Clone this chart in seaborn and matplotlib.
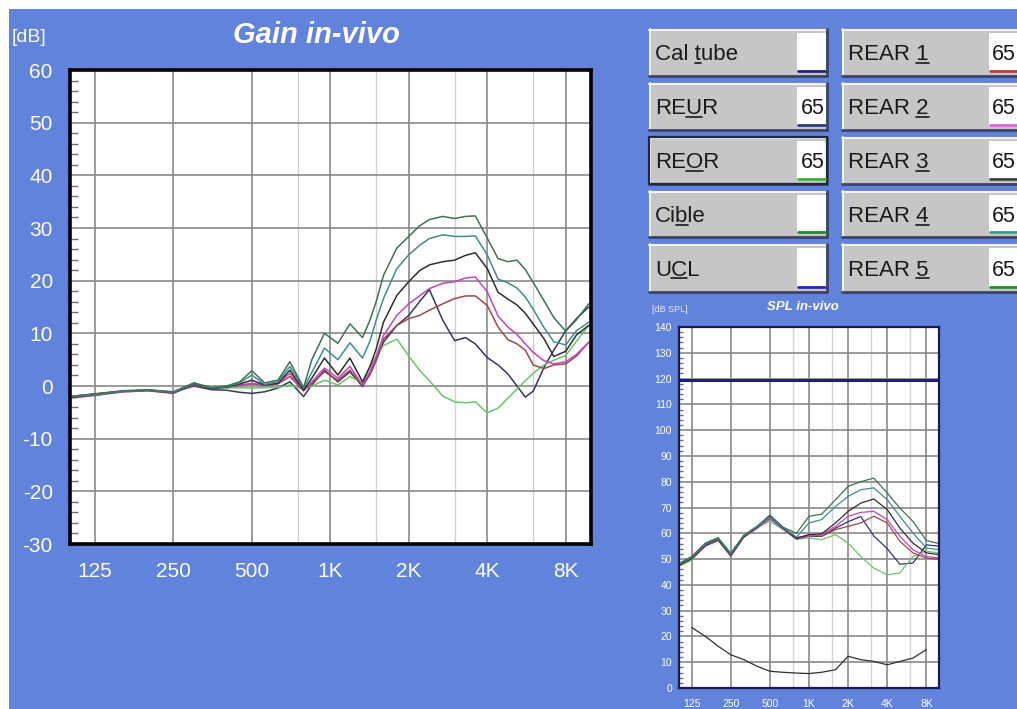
import numpy as np
import pandas as pd
import matplotlib
matplotlib.use("Agg")
import matplotlib.pyplot as plt
import seaborn as sns
from matplotlib.patches import Rectangle
from matplotlib.lines import Line2D
from matplotlib.ticker import FixedLocator, NullFormatter, MultipleLocator

# ---------------- data ----------------
gain_freqs = [100, 125, 160, 200, 250, 300, 350, 400, 450,
              500, 560, 630, 700, 790, 850, 950, 1070, 1190, 1330, 1420, 1500,
              1600, 1800, 2000, 2200, 2400, 2700, 3000, 3300,
              3600, 4000, 4400, 4800, 5200, 5600, 6000, 6600, 7200, 8000, 8800, 9800]

gain_rear5 = [-2.0, -1.5, -0.9, -0.7, -1.1, 0.6, -0.3, 0.0, 0.8,
              2.9, 0.6, 1.1, 4.6, -0.3, 5.0, 10.0, 8.1, 11.8, 9.2, 12.5, 16.0,
              21.0, 26.2, 28.4, 30.4, 31.6, 32.2, 31.8, 32.2,
              32.3, 28.1, 24.2, 23.6, 23.9, 22.1, 19.7, 16.2, 13.0, 10.4, 12.6, 15.6]
gain_rear4 = [-2.1, -1.6, -1.0, -0.8, -1.2, 0.5, -0.4, -0.1, 0.6,
              2.1, 0.3, 0.8, 3.7, -0.4, 2.6, 7.2, 5.0, 8.2, 5.3, 8.5, 12.5,
              16.6, 22.3, 24.9, 26.7, 28.0, 28.7, 28.4, 28.4,
              28.5, 24.9, 20.3, 19.6, 18.6, 16.9, 14.6, 11.1, 8.4, 7.8, 10.5, 12.1]
gain_rear3 = [-2.2, -1.6, -1.0, -0.8, -1.3, 0.4, -0.5, -0.2, 0.4,
              1.1, 0.2, 0.5, 3.0, -0.8, 1.5, 5.3, 2.1, 5.3, 0.8, 3.7, 7.0,
              12.1, 17.2, 19.8, 21.9, 23.0, 23.6, 23.9, 24.8,
              25.3, 22.3, 17.8, 16.5, 15.4, 13.8, 11.8, 9.0, 5.6, 6.6, 9.7, 11.5]
gain_rear2 = [-2.1, -1.7, -1.1, -0.9, -1.4, 0.3, -0.4, -0.1, 0.2,
              0.5, 0.2, 0.5, 2.4, -0.9, 0.8, 3.4, 1.5, 3.7, 0.2, 2.7, 5.6,
              9.6, 13.4, 15.6, 17.1, 18.5, 19.5, 19.8, 20.5,
              20.7, 17.9, 13.3, 11.2, 9.8, 8.0, 6.4, 4.8, 4.2, 4.6, 6.0, 8.3]
gain_rear1 = [-2.3, -1.8, -1.1, -0.9, -1.3, 0.2, -0.5, -0.2, 0.1,
              0.4, 0.1, 0.4, 1.8, -0.9, 0.5, 2.7, 1.1, 3.0, 0.1, 2.1, 4.9,
              8.9, 11.5, 12.8, 13.4, 14.4, 15.6, 16.6, 17.1,
              17.1, 15.3, 11.2, 8.8, 8.0, 6.8, 4.0, 3.3, 4.0, 4.2, 5.7, 8.3]
gain_reur = [-2.0, -1.5, -1.0, -0.8, -1.2, 0.0, -0.7, -0.8, -1.2,
             -1.4, -1.1, -0.4, 0.8, -2.0, 0.2, 3.0, 0.8, 2.7, -0.1, 2.4, 4.9,
             8.3, 11.5, 13.4, 16.0, 18.3, 12.5, 8.6, 9.2,
             8.0, 5.4, 4.0, 2.3, 0.0, -2.1, -1.0, 3.5, 6.8, 10.5, 12.8, 15.0]
gain_reor = [-2.0, -1.6, -1.0, -0.8, -1.2, 0.4, -0.3, -0.4, -0.3,
             -0.4, -0.3, -0.3, 0.2, -0.6, 0.0, 1.1, 0.2, 1.8, 0.5, 3.7, 5.6,
             7.7, 8.9, 5.7, 3.0, 1.0, -1.9, -3.0, -3.2,
             -3.0, -5.1, -4.2, -2.3, -0.6, 1.0, 2.4, 4.0, 4.9, 5.8, 8.5, 11.5]

spl_freqs = [100, 125, 160, 200, 250, 315, 400, 500, 630, 800, 1000,
             1250, 1600, 2000, 2500, 3150, 4000, 5000, 6300, 8000, 10000]
spl_rear5 = [48.3, 51.0, 56.3, 58.3, 52.3, 59.3, 62.8, 67.0, 62.4, 60.0, 66.6,
             67.4, 73.0, 78.2, 80.0, 81.4, 75.6, 69.8, 64.6, 57.2, 56.0]
spl_rear4 = [48.0, 50.6, 55.8, 58.0, 51.9, 59.0, 62.5, 66.2, 62.2, 58.5, 64.0,
             65.3, 70.4, 74.3, 76.9, 77.6, 73.0, 66.6, 60.1, 54.3, 53.6]
spl_rear3 = [47.6, 50.2, 55.5, 57.6, 51.5, 58.7, 62.3, 66.8, 62.0, 58.0, 59.5,
             59.8, 64.0, 68.5, 71.7, 73.3, 69.2, 62.0, 56.2, 52.4, 51.7]
spl_rear2 = [47.8, 50.0, 55.2, 57.5, 51.0, 58.5, 62.0, 65.5, 61.7, 57.8, 58.8,
             59.5, 62.7, 66.6, 68.1, 68.5, 65.3, 58.8, 53.6, 51.0, 50.4]
spl_rear1 = [47.5, 50.2, 55.0, 57.2, 51.3, 58.4, 62.1, 65.8, 61.8, 58.0, 59.5,
             58.8, 61.4, 62.7, 64.0, 66.6, 64.0, 56.9, 52.4, 50.4, 49.8]
spl_reur = [48.0, 50.8, 56.0, 58.0, 52.0, 59.0, 62.5, 66.9, 62.3, 58.4, 58.8,
            58.8, 62.0, 64.5, 66.5, 59.0, 54.0, 48.0, 48.5, 55.5, 55.0]
spl_reor = [47.2, 49.5, 55.3, 57.5, 51.8, 59.2, 62.5, 64.6, 61.5, 57.6, 58.2,
            57.5, 59.5, 56.2, 51.0, 46.5, 43.9, 44.6, 51.0, 53.0, 52.4]
noise_freqs = [125, 160, 200, 250, 315, 400, 500, 630, 800, 1000,
               1250, 1600, 2000, 2500, 3150, 4000, 5000, 6300, 8000]
noise_spl = [23.5, 20.0, 16.2, 12.9, 11.0, 8.4, 6.5, 6.1, 5.8, 5.6,
             6.1, 7.1, 12.3, 11.0, 10.3, 9.0, 10.3, 11.6, 14.9]
ucl_freqs = [100, 10000]
ucl_spl = [119.5, 119.5]

freq_ticks = [125, 250, 500, 1000, 2000, 4000, 8000]
freq_labels = ["125", "250", "500", "1K", "2K", "4K", "8K"]
freq_minor = [750, 1500, 3000, 6000]

curve_names = ["REUR", "REOR", "REAR 1", "REAR 2", "REAR 3", "REAR 4", "REAR 5"]
curve_colors = {"REUR": "#34385e", "REOR": "#6cc46c", "REAR 1": "#a4464a",
                "REAR 2": "#c244c0", "REAR 3": "#2e2e2e", "REAR 4": "#3f8e8c",
                "REAR 5": "#3f7352"}

buttons_left = ["Cal tube", "REUR", "REOR", "Cible", "UCL"]
buttons_left_u = [4, 2, 2, 2, 1]
buttons_left_val = ["", "65", "65", "", ""]
buttons_left_col = ["#23237a", "#2c3a80", "#3fae3f", "#1f8a2f", "#2525c0"]
buttons_right = ["REAR 1", "REAR 2", "REAR 3", "REAR 4", "REAR 5"]
buttons_right_val = ["65", "65", "65", "65", "65"]
buttons_right_col = ["#b83a3a", "#e060e0", "#404040", "#3a9a80", "#2a8a2a"]

# ---------------- figure ----------------
sns.set_theme(style="white")
plt.rcParams['font.family'] = ['Liberation Sans', 'DejaVu Sans']
plt.rcParams['axes.unicode_minus'] = False

W, H = 1017, 709
BLUE = "#6283dc"
fig = plt.figure(figsize=(W / 100, H / 100), dpi=100)
fig.patch.set_facecolor(BLUE)


def rect_px(x0, y0, x1, y1, **kw):
    r = Rectangle((x0 / W, 1 - y1 / H), (x1 - x0) / W, (y1 - y0) / H,
                  transform=fig.transFigure, **kw)
    fig.add_artist(r)
    return r


def line_px(x0, y0, x1, y1, **kw):
    fig.add_artist(Line2D([x0 / W, x1 / W], [1 - y0 / H, 1 - y1 / H],
                          transform=fig.transFigure, **kw))


def axes_px(l, t, r, b):
    return fig.add_axes([l / W, 1 - b / H, (r - l) / W, (b - t) / H])


# white margins at top / left
rect_px(0, 0, W, 9, facecolor="white", edgecolor="none", zorder=-5)
rect_px(0, 0, 9, H, facecolor="white", edgecolor="none", zorder=-5)


def style_freq_axes(ax, ylo, yhi, ystep, fs_x, fs_y, padx, pady, grid_major,
                    grid_minor, frame_color, frame_lw, minor_len):
    ax.set_xscale("log")
    ax.set_xlim(100, 10000)
    ax.set_ylim(ylo, yhi)
    ax.xaxis.set_major_locator(FixedLocator(freq_ticks))
    ax.set_xticklabels(freq_labels)
    ax.xaxis.set_minor_locator(FixedLocator(freq_minor))
    ax.xaxis.set_minor_formatter(NullFormatter())
    ax.set_yticks(np.arange(ylo, yhi + 1, ystep))
    ax.yaxis.set_minor_locator(MultipleLocator(2))
    ax.grid(which="major", axis="both", color=grid_major, linewidth=1.2)
    ax.grid(which="minor", axis="x", color=grid_minor, linewidth=1.0)
    ax.set_axisbelow(True)
    ax.tick_params(axis="x", which="both", length=0, labelcolor="white",
                   labelsize=fs_x, pad=padx)
    ax.tick_params(axis="y", which="major", length=0, labelcolor="white",
                   labelsize=fs_y, pad=pady)
    ax.tick_params(axis="y", which="minor", direction="in", length=minor_len,
                   width=1.0, color="#707070", left=True, right=False)
    for s in ax.spines.values():
        s.set_color(frame_color)
        s.set_linewidth(frame_lw)
        s.set_visible(True)
    ax.set_facecolor("white")
    ax.set_xlabel("")
    ax.set_ylabel("")


# ---------------- main gain chart ----------------
ax = axes_px(69.5, 70, 591, 544)
ax.set_xscale("log")
gain_df = pd.DataFrame({
    "freq": np.tile(gain_freqs, 7),
    "dB": np.concatenate([gain_reur, gain_reor, gain_rear1, gain_rear2,
                          gain_rear3, gain_rear4, gain_rear5]),
    "curve": np.repeat(curve_names, len(gain_freqs)),
})
sns.lineplot(data=gain_df, x="freq", y="dB", hue="curve", hue_order=curve_names,
             palette=curve_colors, estimator=None, sort=False, linewidth=1.1,
             legend=False, ax=ax)
style_freq_axes(ax, -30, 60, 10, 15, 15, 13, 12, "#8a8a8a", "#d2d2d2",
                "black", 2.6, 6)

fig.text(316 / W, 1 - 43 / H, "Gain in-vivo", ha="center", va="baseline",
         fontsize=21, fontweight="bold", fontstyle="italic", color="white")
fig.text(12 / W, 1 - 38 / H, "[dB]", ha="left", va="center", fontsize=14,
         color="white")

# ---------------- small SPL chart ----------------
ax2 = axes_px(679, 327, 939, 688)
ax2.set_xscale("log")
spl_df = pd.DataFrame({
    "freq": np.tile(spl_freqs, 7),
    "dB": np.concatenate([spl_reur, spl_reor, spl_rear1, spl_rear2,
                          spl_rear3, spl_rear4, spl_rear5]),
    "curve": np.repeat(curve_names, len(spl_freqs)),
})
sns.lineplot(data=spl_df, x="freq", y="dB", hue="curve", hue_order=curve_names,
             palette=curve_colors, estimator=None, sort=False, linewidth=0.9,
             legend=False, ax=ax2)
sns.lineplot(x=noise_freqs, y=noise_spl, color="#303030", linewidth=0.9,
             estimator=None, sort=False, ax=ax2)
sns.lineplot(x=ucl_freqs, y=ucl_spl, color="#1c1c8a", linewidth=2.2,
             estimator=None, sort=False, ax=ax2)
style_freq_axes(ax2, 0, 140, 10, 7.5, 7.5, 8, 5, "#8a8a8a", "#d2d2d2",
                "#1a1a50", 1.6, 3)

fig.text(803 / W, 1 - 307 / H, "SPL in-vivo", ha="center", va="center",
         fontsize=9.5, fontweight="bold", fontstyle="italic", color="white")
fig.text(652 / W, 1 - 309 / H, "[dB SPL]", ha="left", va="center",
         fontsize=6.5, color="#e8ecf8")

# ---------------- buttons ----------------
rows = [(29, 76), (83, 130), (137, 184), (191, 237), (244, 292)]
underlines = []


def button(x0, x1, y0, y1, label, uidx, val, ucol, bx0, bx1, vx, selected=False):
    rect_px(x0, y0, x1, y1, facecolor="#c6c6c6", edgecolor="none", zorder=2)
    line_px(x0, y0 + 0.5, x1, y0 + 0.5, color="#f4f4f4", linewidth=1.5, zorder=3)
    line_px(x0 + 0.5, y0, x0 + 0.5, y1, color="#f4f4f4", linewidth=1.5, zorder=3)
    line_px(x0, y1 - 0.5, x1, y1 - 0.5, color="#3c4466", linewidth=2, zorder=3)
    line_px(x1 - 0.5, y0, x1 - 0.5, y1, color="#3c4466", linewidth=2, zorder=3)
    if selected:
        rect_px(x0, y0, x1, y1, facecolor="none", edgecolor="#202840",
                linewidth=1.6, zorder=4)
    rect_px(bx0, y0 + 4, bx1, y1 - 3, facecolor="white", edgecolor="none", zorder=3)
    line_px(bx0 + 1, y1 - 5, bx1 - 1, y1 - 5, color=ucol, linewidth=2, zorder=4)
    base = (y0 + y1) / 2 + 8
    t = fig.text(x0 + 6, 0, "", zorder=5)
    t.remove()
    tx = fig.text((x0 + 6) / W, 1 - base / H, label, ha="left", va="baseline",
                  fontsize=16, color="#1a1a1a", zorder=5)
    underlines.append((tx, label, uidx, x0 + 6, base))
    if val:
        fig.text(vx / W, 1 - base / H, val, ha="right", va="baseline",
                 fontsize=15.5, color="#1a1a1a", zorder=5)


for i, (y0, y1) in enumerate(rows):
    button(649, 827, y0, y1, buttons_left[i], buttons_left_u[i],
           buttons_left_val[i], buttons_left_col[i], 797, 826, 825,
           selected=(buttons_left[i] == "REOR"))
    button(842, 1030, y0, y1, buttons_right[i], 5, buttons_right_val[i],
           buttons_right_col[i], 989, 1030, 1016)

# underline mnemonic letters
fig.canvas.draw()
renderer = fig.canvas.get_renderer()
for tx, label, idx, x0, base in underlines:
    probe = fig.text(0, 0, label[:idx + 1], fontsize=16)
    w_all = probe.get_window_extent(renderer).width
    probe.set_text(label[idx])
    w_ch = probe.get_window_extent(renderer).width
    probe.remove()
    right = x0 + w_all
    left = right - w_ch
    line_px(left, base + 2.5, right, base + 2.5, color="#1a1a1a",
            linewidth=1.2, zorder=6)

fig.savefig("out.png", dpi=100, facecolor=fig.get_facecolor())
